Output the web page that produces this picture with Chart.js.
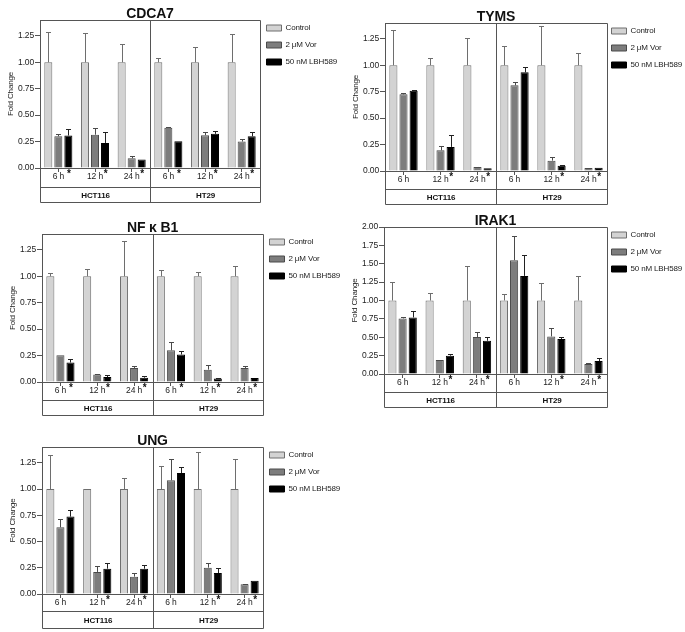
<!DOCTYPE html>
<html><head><meta charset="utf-8">
<script src="https://cdn.jsdelivr.net/npm/chart.js@4.4.1/dist/chart.umd.min.js"></script>
<style>
html,body{margin:0;padding:0;background:#fff;width:685px;height:632px;overflow:hidden;position:relative;}
canvas{position:absolute;}
</style></head><body>
<script>
// ---------- data ----------
const timePoints = ['6 h', '12 h', '24 h', '6 h', '12 h', '24 h'];
const cellLines = ['HCT116', 'HT29'];
const seriesLabels = ['Control', '2 \u03BCM Vor', '50 nM LBH589'];
const geneNames = ['CDCA7', 'TYMS', 'NF \u03BA B1', 'IRAK1', 'UNG'];
const yMaxima = [1.4, 1.4, 1.4, 2.0, 1.4];
const yStep = 0.25;

const cdca7Control = [1, 1, 1, 1, 1, 1];
const cdca7ControlErr = [0.285, 0.275, 0.17, 0.045, 0.14, 0.27];
const cdca7Vor = [0.30, 0.315, 0.092, 0.38, 0.31, 0.25];
const cdca7VorErr = [0.02, 0.06, 0.02, 0.006, 0.035, 0.022];
const cdca7Lbh = [0.307, 0.237, 0.08, 0.253, 0.323, 0.30];
const cdca7LbhErr = [0.06, 0.10, 0, 0, 0.028, 0.04];
const cdca7Stars = [1, 1, 1, 1, 1, 1];

const tymsControl = [1, 1, 1, 1, 1, 1];
const tymsControlErr = [0.335, 0.07, 0.256, 0.187, 0.367, 0.12];
const tymsVor = [0.725, 0.196, 0.038, 0.81, 0.098, 0.028];
const tymsVorErr = [0.015, 0.038, 0.003, 0.035, 0.035, 0];
const tymsLbh = [0.76, 0.228, 0.025, 0.933, 0.05, 0.03];
const tymsLbhErr = [0.003, 0.117, 0, 0.054, 0.007, 0];
const tymsStars = [0, 1, 1, 0, 1, 1];

const nfkb1Control = [1, 1, 1, 1, 1, 1];
const nfkb1ControlErr = [0.035, 0.066, 0.335, 0.063, 0.044, 0.095];
const nfkb1Vor = [0.253, 0.07, 0.133, 0.30, 0.117, 0.133];
const nfkb1VorErr = [0, 0.01, 0.016, 0.08, 0.041, 0.022];
const nfkb1Lbh = [0.184, 0.047, 0.041, 0.26, 0.032, 0.038];
const nfkb1LbhErr = [0.034, 0.016, 0.013, 0.034, 0.006, 0];
const nfkb1Stars = [1, 1, 1, 1, 1, 1];

const irak1Control = [1, 1, 1, 1, 1, 1];
const irak1ControlErr = [0.258, 0.104, 0.475, 0.086, 0.244, 0.339];
const irak1Vor = [0.756, 0.19, 0.502, 1.548, 0.511, 0.136];
const irak1VorErr = [0.013, 0, 0.068, 0.325, 0.118, 0.009];
const irak1Lbh = [0.769, 0.249, 0.452, 1.335, 0.475, 0.176];
const irak1LbhErr = [0.082, 0.021, 0.05, 0.28, 0.027, 0.041];
const irak1Stars = [0, 1, 1, 0, 1, 1];

const ungControl = [1, 1, 1, 1, 1, 1];
const ungControlErr = [0.324, 0.003, 0.108, 0.222, 0.352, 0.289];
const ungVor = [0.635, 0.21, 0.165, 1.083, 0.251, 0.092];
const ungVorErr = [0.082, 0.06, 0.035, 0.203, 0.041, 0.008];
const ungLbh = [0.737, 0.241, 0.241, 1.152, 0.2, 0.127];
const ungLbhErr = [0.06, 0.057, 0.032, 0.061, 0.048, 0];
const ungStars = [0, 1, 1, 0, 1, 1];

// ---------- layout (pixel placement of each panel) ----------
const panelBoxes = [
  {L: 40,  T: 20,  R: 260, Z: 168, row: 18.7, bot: 34,   ldx: -2.5},
  {L: 385, T: 23,  R: 607, Z: 171, row: 18,   bot: 32.6, ldx: -4.5},
  {L: 42,  T: 234, R: 263, Z: 382, row: 18,   bot: 33,   ldx: -2.5},
  {L: 384, T: 227, R: 607, Z: 374, row: 17.5, bot: 33,   ldx: -4.5},
  {L: 42,  T: 447, R: 263, Z: 594, row: 16.7, bot: 34.3, ldx: -2.5}
];
const AXW = 40, TITLEH = 22, LEGW = 80, PADR = 25;
const LINE = '#555';
const FONT = "'Liberation Sans', Arial, Helvetica, sans-serif";
Chart.defaults.font.family = FONT;
Chart.defaults.color = '#222';

const decoPlugin = {
  id: 'panelDeco',
  afterLayout(chart, args, o) {
    const lg = chart.legend;
    if (lg) {
      lg.top += o.legendDy; lg.bottom += o.legendDy;
      lg.left += o.legendDx; lg.right += o.legendDx + PADR;
      lg.width += PADR;
    }
  },
  beforeDraw(chart) {
    if ('letterSpacing' in chart.ctx) chart.ctx.letterSpacing = '-0.15px';
  },
  afterDatasetsDraw(chart) {
    const ctx = chart.ctx, ys = chart.scales.y;
    ctx.save();
    chart.data.datasets.forEach((ds, i) => {
      const meta = chart.getDatasetMeta(i);
      meta.data.forEach((bar, j) => {
        const e = ds.errors[j];
        if (!e) return;
        const yTop = Math.round(ys.getPixelForValue(ds.data[j] + e)) + 0.5;
        const x = Math.round(bar.x) + 0.5;
        ctx.strokeStyle = ds.errColor; ctx.lineWidth = 1;
        ctx.beginPath();
        ctx.moveTo(x, bar.y); ctx.lineTo(x, yTop);
        ctx.moveTo(x - 2.5, yTop); ctx.lineTo(x + 2.5, yTop);
        ctx.stroke();
      });
    });
    ctx.restore();
  },
  afterDraw(chart, args, o) {
    const ctx = chart.ctx, a = chart.chartArea, xs = chart.scales.x;
    const L = Math.round(a.left) + 0.5, R = Math.round(a.right) + 0.5, T = Math.round(a.top) + 0.5;
    const Z = Math.round(a.bottom);
    const rowY = Math.round(Z + o.row) + 0.5, botY = Math.round(Z + o.bot) + 0.5;
    const div = Math.round((xs.getPixelForValue(2) + xs.getPixelForValue(3)) / 2) + 0.5;
    ctx.save();
    ctx.strokeStyle = LINE; ctx.lineWidth = 1;
    ctx.beginPath();
    ctx.moveTo(L, T); ctx.lineTo(R, T);
    ctx.moveTo(R, T); ctx.lineTo(R, botY);
    ctx.moveTo(L, Z); ctx.lineTo(L, botY);
    ctx.moveTo(div, T); ctx.lineTo(div, botY);
    ctx.moveTo(L, rowY); ctx.lineTo(R, rowY);
    ctx.moveTo(L, botY); ctx.lineTo(R, botY);
    ctx.stroke();
    // asterisks
    const lbhMeta = chart.getDatasetMeta(2);
    ctx.fillStyle = '#111';
    ctx.font = 'bold 10px ' + FONT;
    ctx.textAlign = 'center'; ctx.textBaseline = 'top';
    o.stars.forEach((s, j) => { if (s) ctx.fillText('*', lbhMeta.data[j].x + 0.5, Z + 1); });
    // cell line labels
    ctx.font = 'bold 8px ' + FONT;
    ctx.textBaseline = 'middle';
    const gy = (rowY + botY) / 2 + 0.5;
    ctx.fillText(o.groups[0], (L + div) / 2, gy);
    ctx.fillText(o.groups[1], (div + R) / 2, gy);
    ctx.restore();
  }
};

function makePanel(i, ctrl, ctrlErr, vor, vorErr, lbh, lbhErr, stars) {
  const b = panelBoxes[i];
  const x0 = b.L - AXW, y0 = b.T - TITLEH;
  const xAxisH = Math.round(b.bot) + 3;
  const W = (b.R - x0) + LEGW + PADR;
  const H = (b.Z - y0) + xAxisH;
  const cv = document.createElement('canvas');
  cv.width = W; cv.height = H;
  cv.style.left = x0 + 'px'; cv.style.top = y0 + 'px';
  cv.style.width = W + 'px'; cv.style.height = H + 'px';
  document.body.appendChild(cv);
  const yMax = yMaxima[i];
  new Chart(cv, {
    type: 'bar',
    data: {
      labels: timePoints,
      datasets: [
        {label: seriesLabels[0], data: ctrl, errors: ctrlErr, errColor: '#6e6e6e', backgroundColor: '#d3d3d3', borderColor: '#6e6e6e', borderWidth: 1},
        {label: seriesLabels[1], data: vor, errors: vorErr, errColor: '#4a4a4a', backgroundColor: '#7d7d7d', borderColor: '#4a4a4a', borderWidth: 1},
        {label: seriesLabels[2], data: lbh, errors: lbhErr, errColor: '#222', backgroundColor: '#000', borderColor: '#000', borderWidth: 1}
      ]
    },
    options: {
      responsive: false, animation: false, devicePixelRatio: 1,
      layout: {padding: {left: 0, top: 0, right: PADR, bottom: 0}},
      datasets: {bar: {categoryPercentage: 0.82, barPercentage: 0.8}},
      scales: {
        x: {
          type: 'category', offset: true,
          grid: {display: true, drawOnChartArea: false, drawTicks: true, tickLength: 4, offset: false, color: LINE},
          border: {display: true, color: LINE, width: 1},
          ticks: {font: {size: 8.5}, padding: 0, maxRotation: 0, autoSkip: false, color: '#222'},
          afterFit(s) { s.height = xAxisH; }
        },
        y: {
          min: 0, max: yMax,
          grid: {display: true, drawOnChartArea: false, drawTicks: true, tickLength: 5, color: LINE},
          border: {display: true, color: LINE, width: 1},
          ticks: {stepSize: yStep, font: {size: 8.5}, padding: 1, color: '#222', callback: v => Number(v).toFixed(2)},
          afterBuildTicks(s) { s.ticks = s.ticks.filter(t => Math.abs(t.value / yStep - Math.round(t.value / yStep)) < 1e-6); },
          afterFit(s) { s.width = AXW; },
          title: {display: true, text: 'Fold Change', font: {size: 8}, padding: {top: 6, bottom: 0}, color: '#222'}
        }
      },
      plugins: {
        title: {display: true, text: geneNames[i], fullSize: false, color: '#111',
                font: {size: 14, weight: 'bold', lineHeight: '12px'}, padding: {top: 10, bottom: 0}},
        legend: {display: true, position: 'right', align: 'start', fullSize: false, maxWidth: LEGW,
                 labels: {boxWidth: 15, boxHeight: 6, padding: 9, font: {size: 8}, color: '#222'}},
        tooltip: {enabled: false},
        panelDeco: {legendDy: -5, legendDx: b.ldx, row: b.row, bot: b.bot, stars: stars, groups: cellLines}
      }
    },
    plugins: [decoPlugin]
  });
}

makePanel(0, cdca7Control, cdca7ControlErr, cdca7Vor, cdca7VorErr, cdca7Lbh, cdca7LbhErr, cdca7Stars);
makePanel(1, tymsControl, tymsControlErr, tymsVor, tymsVorErr, tymsLbh, tymsLbhErr, tymsStars);
makePanel(2, nfkb1Control, nfkb1ControlErr, nfkb1Vor, nfkb1VorErr, nfkb1Lbh, nfkb1LbhErr, nfkb1Stars);
makePanel(3, irak1Control, irak1ControlErr, irak1Vor, irak1VorErr, irak1Lbh, irak1LbhErr, irak1Stars);
makePanel(4, ungControl, ungControlErr, ungVor, ungVorErr, ungLbh, ungLbhErr, ungStars);
</script>
</body></html>
